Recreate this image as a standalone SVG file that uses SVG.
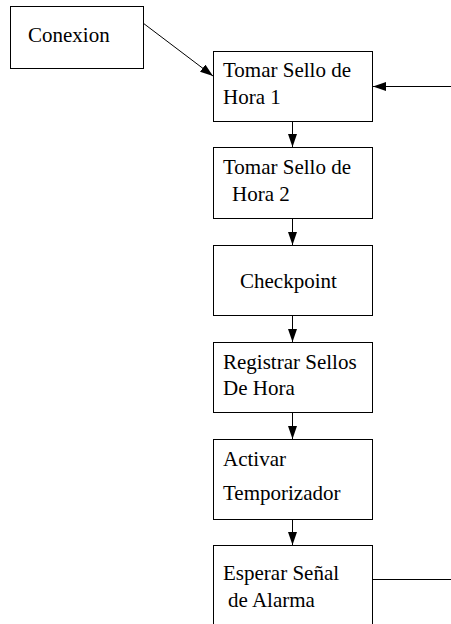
<svg xmlns="http://www.w3.org/2000/svg" width="451" height="624" viewBox="0 0 451 624">
<style>
.box{fill:#fff;stroke:#000;stroke-width:1}
.t{font-family:"Liberation Serif","Times New Roman",serif;font-size:21px;fill:#000}
.c{stroke:#000;stroke-width:1;fill:none}
</style>
<defs>
<marker id="ah" markerUnits="userSpaceOnUse" markerWidth="13" markerHeight="9" refX="13" refY="4.5" orient="auto">
<path d="M0,0 L13,4.5 L0,9 Z" fill="#000"/>
</marker>
</defs>
<rect width="451" height="624" fill="#fff"/>
<g id="conexion"><rect class="box" x="10.5" y="6.5" width="133" height="62"/><text class="t" x="28" y="42">Conexion</text></g>
<g id="sello1"><rect class="box" x="213.5" y="51.5" width="159" height="70"/><text class="t" x="223" y="77">Tomar Sello de</text><text class="t" x="223" y="104">Hora 1</text></g>
<g id="sello2"><rect class="box" x="213.5" y="147.5" width="159" height="71"/><text class="t" x="223" y="174">Tomar Sello de</text><text class="t" x="232" y="201">Hora 2</text></g>
<g id="checkpoint"><rect class="box" x="213.5" y="245.5" width="159" height="70"/><text class="t" x="240" y="288">Checkpoint</text></g>
<g id="registrar"><rect class="box" x="213.5" y="342.5" width="159" height="70"/><text class="t" x="223" y="369">Registrar Sellos</text><text class="t" x="223" y="395">De Hora</text></g>
<g id="activar"><rect class="box" x="213.5" y="439.5" width="159" height="80"/><text class="t" x="223" y="466">Activar</text><text class="t" x="223" y="500">Temporizador</text></g>
<g id="esperar"><rect class="box" x="213.5" y="545.5" width="159" height="90"/><text class="t" x="223" y="580">Esperar Señal</text><text class="t" x="228" y="607">de Alarma</text></g>
<g id="connectors">
<line class="c" x1="143" y1="23" x2="213" y2="76" marker-end="url(#ah)"/>
<line class="c" x1="451" y1="86.5" x2="373" y2="86.5" marker-end="url(#ah)"/>
<line class="c" x1="292.5" y1="122" x2="292.5" y2="147" marker-end="url(#ah)"/>
<line class="c" x1="292.5" y1="219" x2="292.5" y2="245" marker-end="url(#ah)"/>
<line class="c" x1="292.5" y1="316" x2="292.5" y2="342" marker-end="url(#ah)"/>
<line class="c" x1="292.5" y1="413" x2="292.5" y2="439" marker-end="url(#ah)"/>
<line class="c" x1="292.5" y1="520" x2="292.5" y2="545" marker-end="url(#ah)"/>
<line class="c" x1="373" y1="579.5" x2="451" y2="579.5"/>
</g>
</svg>
